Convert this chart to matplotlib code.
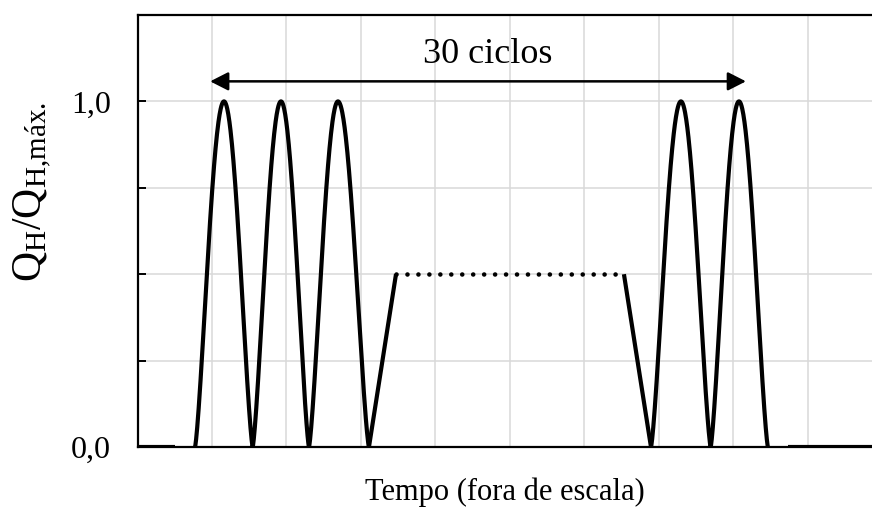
import numpy as np
import matplotlib
matplotlib.use("Agg")
import matplotlib.pyplot as plt

plt.rcParams['font.family'] = ['Liberation Serif', 'DejaVu Serif']
plt.rcParams['mathtext.fontset'] = 'custom'
plt.rcParams['mathtext.rm'] = 'Liberation Serif'
plt.rcParams['mathtext.it'] = 'Liberation Serif:italic'

# ---- data (time in grid units, "fora de escala") ----
flat_start = [0.0, 0.503]          # initial rest at 0
left_zeros = [0.772, 1.546, 2.302, 3.107]
left_peaks = [1.161, 1.926, 2.691]
ramp_up = [3.107, 3.470]           # rises to 0.5
hold_level = 0.5
hold_span = [3.470, 6.530]         # dotted (omitted cycles)
ramp_down = [6.530, 6.893]
right_zeros = [6.893, 7.694, 8.463]
right_peaks = [7.295, 8.074]
flat_end = [8.732, 9.86]
peak_value = 1.0
arrow_span = [0.975, 8.168]
xmax = 9.86
ymax = 1.25
yticks = [0.0, 0.25, 0.5, 0.75, 1.0, 1.25]
ytick_labels = ['0,0', '', '', '', '1,0', '']

LINE_PT = 3.0


def cycles(zeros, peaks, q=1.35, n=80):
    xs, ys = [], []
    for za, p, zb in zip(zeros[:-1], peaks, zeros[1:]):
        t = np.linspace(0, 1, n)
        xs.append(za + (p - za) * t)
        ys.append(peak_value * np.sin(np.pi * t / 2) ** q)
        t = np.linspace(0, 1, n)
        xs.append(p + (zb - p) * t)
        ys.append(peak_value * np.cos(np.pi * t / 2) ** q)
    return np.concatenate(xs), np.concatenate(ys)


fig = plt.figure(figsize=(8.72, 5.09), dpi=100)
ax = fig.add_axes([137.5 / 872, 62 / 509, 1 - 137.5 / 872, 432 / 509])

# grid
for gx in range(1, 10):
    ax.axvline(gx, color='#d9d9d9', lw=1.1, zorder=0)
for gy in yticks[1:-1]:
    ax.axhline(gy, color='#d9d9d9', lw=1.1, zorder=0)

kw = dict(color='black', lw=LINE_PT, solid_capstyle='butt', clip_on=True, zorder=3)
ax.plot(flat_start, [0, 0], **kw)
x, y = cycles(left_zeros, left_peaks)
ax.plot(x, y, **kw)
ax.plot(ramp_up, [0, hold_level], **kw)
ax.plot(hold_span, [hold_level, hold_level], color='black', lw=3.3,
        dashes=(0.01, 2.38), dash_capstyle='round', zorder=3)
ax.plot(ramp_down, [hold_level, 0], **kw)
x, y = cycles(right_zeros, right_peaks)
ax.plot(x, y, **kw)
ax.plot(flat_end, [0, 0], **kw)

# arrow + label
ax.annotate('', xy=(arrow_span[0], 1.058), xytext=(arrow_span[1], 1.058),
            arrowprops=dict(arrowstyle='<|-|>,head_length=0.55,head_width=0.28',
                            mutation_scale=20, color='black', lw=1.8,
                            shrinkA=0, shrinkB=0))
ax.text(4.7, 1.112, '30 ciclos', ha='center', va='baseline', fontsize=26)

ax.set_xlim(0, xmax)
ax.set_ylim(0, ymax)
ax.set_yticks(yticks)
ax.set_yticklabels(ytick_labels, fontsize=23)
ax.set_xticks([])
ax.tick_params(axis='y', direction='in', length=6, width=1.4, pad=19)
for s in ['left', 'top', 'bottom']:
    ax.spines[s].set_linewidth(1.6)
ax.spines['right'].set_visible(False)

ax.set_xlabel('Tempo (fora de escala)', fontsize=22, labelpad=22)
ax.set_ylabel(r'Q$_\mathrm{H}$/Q$_\mathrm{H{,}máx.}$', fontsize=30)
ax.yaxis.set_label_coords(-0.114, 0.59)

fig.savefig('out.png', dpi=100)
